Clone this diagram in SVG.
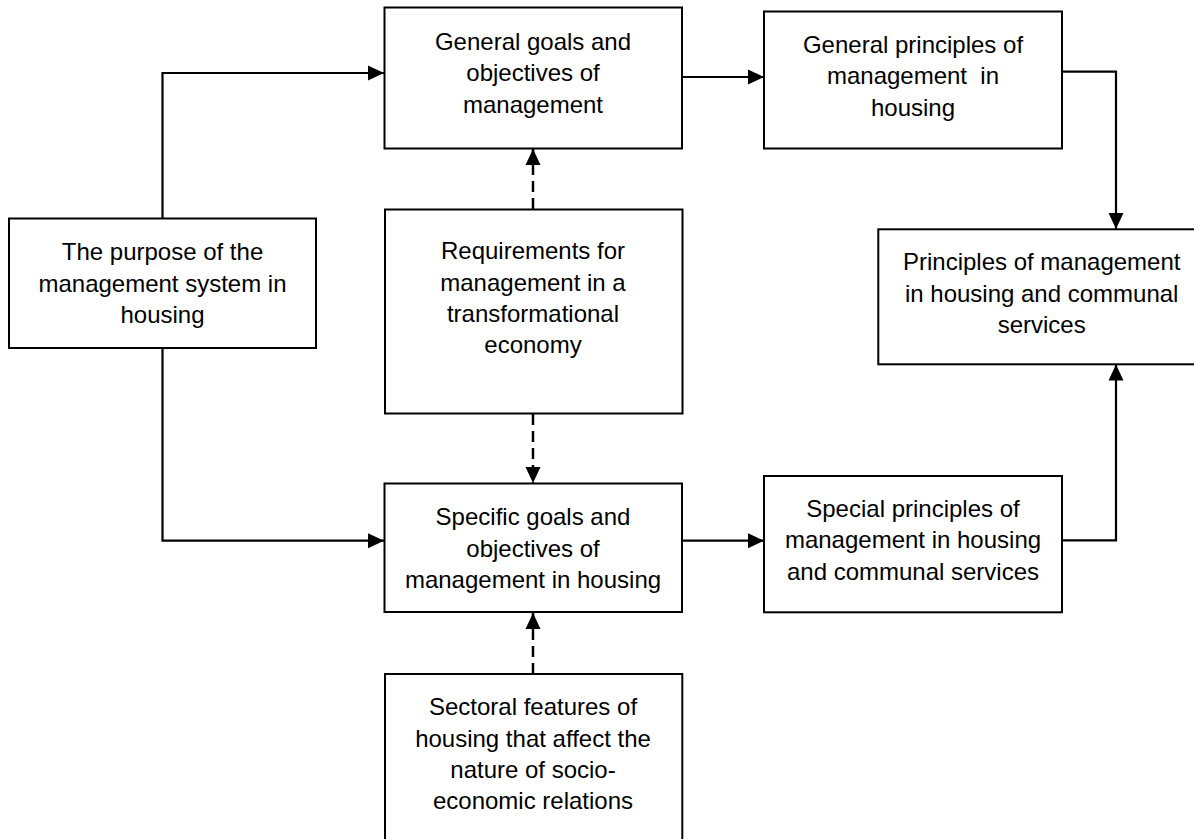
<svg xmlns="http://www.w3.org/2000/svg" width="1194" height="839" viewBox="0 0 1194 839">
<style>
.box{fill:#fff;stroke:#000;stroke-width:2}
.lbl{font-family:"Liberation Sans",Arial,sans-serif;font-size:24px;fill:#000;text-anchor:middle}
.con{fill:none;stroke:#000;stroke-width:2.2}
.dash{stroke-dasharray:11 6;stroke-width:2.5}
</style>
<defs>
<marker id="ah" markerUnits="userSpaceOnUse" markerWidth="17" markerHeight="16" refX="16" refY="8" orient="auto">
<path d="M0,0.5 L16,8 L0,15.5 z" fill="#000" stroke="none"/>
</marker>
</defs>
<rect width="1194" height="839" fill="#fff"/>
<g id="connectors">
<path class="con" d="M162.5,218.5 V73 H384" marker-end="url(#ah)"/>
<path class="con" d="M162.5,348 V540.7 H384" marker-end="url(#ah)"/>
<path class="con" d="M682,77 H764" marker-end="url(#ah)"/>
<path class="con" d="M1062,71.7 H1116 V229" marker-end="url(#ah)"/>
<path class="con" d="M682,540.7 H764" marker-end="url(#ah)"/>
<path class="con" d="M1062,540.3 H1116 V364.5" marker-end="url(#ah)"/>
<path class="con dash" d="M533,209 V149" marker-end="url(#ah)"/>
<path class="con dash" d="M533,414 V483" marker-end="url(#ah)"/>
<path class="con dash" d="M533,674 V613" marker-end="url(#ah)"/>
</g>
<g id="n1">
<rect class="box" x="384.5" y="7.5" width="297.5" height="141"/>
<text class="lbl" x="533"><tspan x="533" y="49.5">General goals and</tspan><tspan x="533" y="81">objectives of</tspan><tspan x="533" y="112.5">management</tspan></text>
</g>
<g id="n2">
<rect class="box" x="764" y="11.5" width="298" height="137"/>
<text class="lbl"><tspan x="913" y="52.7">General principles of</tspan><tspan x="913" y="84.3" xml:space="preserve">management  in</tspan><tspan x="913" y="115.9">housing</tspan></text>
</g>
<g id="n3">
<rect class="box" x="9" y="218.5" width="307" height="129.5"/>
<text class="lbl"><tspan x="162.5" y="260">The purpose of the</tspan><tspan x="162.5" y="291.7">management system in</tspan><tspan x="162.5" y="323.3">housing</tspan></text>
</g>
<g id="n4">
<rect class="box" x="385" y="209.5" width="297.5" height="204"/>
<text class="lbl"><tspan x="533" y="259.3">Requirements for</tspan><tspan x="533" y="290.5">management in a</tspan><tspan x="533" y="321.7">transformational</tspan><tspan x="533" y="352.9">economy</tspan></text>
</g>
<g id="n5">
<rect class="box" x="878.3" y="229.3" width="330" height="135"/>
<text class="lbl"><tspan x="1041.7" y="270">Principles of management</tspan><tspan x="1041.7" y="301.7">in housing and communal</tspan><tspan x="1041.7" y="333.3">services</tspan></text>
</g>
<g id="n6">
<rect class="box" x="384.5" y="483.5" width="297.5" height="128.5"/>
<text class="lbl"><tspan x="533" y="525">Specific goals and</tspan><tspan x="533" y="556.5">objectives of</tspan><tspan x="533" y="588">management in housing</tspan></text>
</g>
<g id="n7">
<rect class="box" x="764" y="476" width="298" height="136.3"/>
<text class="lbl"><tspan x="913" y="516.7">Special principles of</tspan><tspan x="913" y="548.3">management in housing</tspan><tspan x="913" y="580">and communal services</tspan></text>
</g>
<g id="n8">
<rect class="box" x="385" y="674" width="297.3" height="180"/>
<text class="lbl"><tspan x="533" y="715">Sectoral features of</tspan><tspan x="533" y="746.7">housing that affect the</tspan><tspan x="533" y="778">nature of socio-</tspan><tspan x="533" y="809">economic relations</tspan></text>
</g>
</svg>
